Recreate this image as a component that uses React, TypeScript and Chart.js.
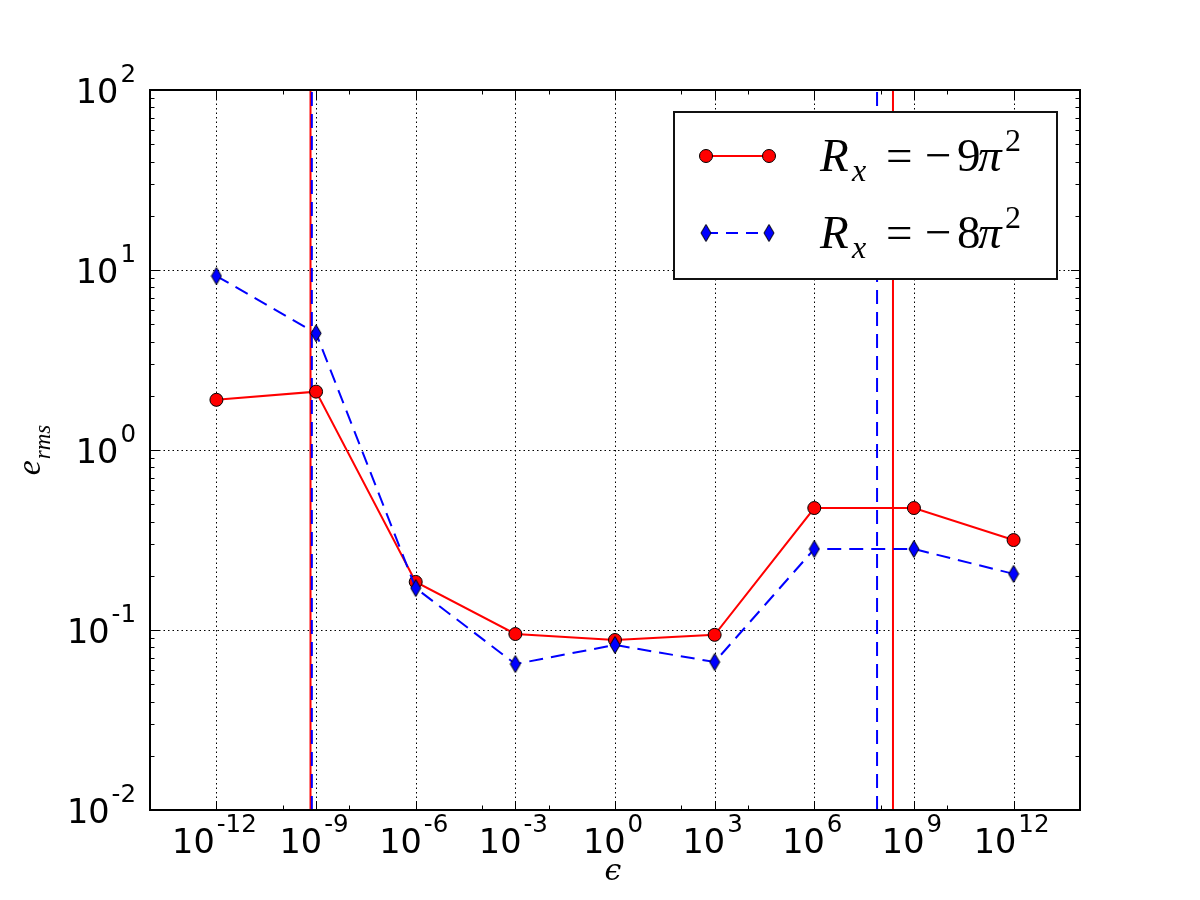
import { useEffect, useRef } from "react";
import { Chart, registerables } from "chart.js";

Chart.register(...registerables);

// Regularisation parameter values and RMS error of the two runs
const EPSILON = [1e-12, 1e-9, 1e-6, 1e-3, 1, 1e3, 1e6, 1e9, 1e12];
const ERMS_RX9 = [1.9, 2.11, 0.185, 0.095, 0.088, 0.094, 0.476, 0.476, 0.316];
const ERMS_RX8 = [9.26, 4.45, 0.171, 0.0647, 0.0826, 0.0664, 0.282, 0.282, 0.205];

// Stability limits in epsilon for each run (drawn as vertical lines)
const LIMITS_RX9 = [6.8e-10, 2.34e8];
const LIMITS_RX8 = [7.46e-10, 7.76e7];

// Legend coefficients: R_x = -c * pi^2
const SERIES_COEF = ["9", "8"];

// Axis ranges and tick exponents
const X_MIN = 1e-14;
const X_MAX = 1e14;
const Y_MIN = 1e-2;
const Y_MAX = 1e2;
const X_MAJOR_EXP = [-12, -9, -6, -3, 0, 3, 6, 9, 12];
const X_MINOR_EXP = [-10, -8, -4, -2, 2, 4, 8, 10];
const Y_MAJOR_EXP = [-2, -1, 0, 1, 2];

const RED = "#ff0000";
const BLUE = "#0000ff";
const DASH = [14, 8];
const TICK_FONT = '"DejaVu Sans", sans-serif';
const MATH_FONT = '"Liberation Serif", "DejaVu Serif", serif';

function makeDiamond(w: number, h: number, fill: string): HTMLCanvasElement {
  const c = document.createElement("canvas");
  c.width = w + 2;
  c.height = h + 2;
  const g = c.getContext("2d")!;
  g.beginPath();
  g.moveTo(c.width / 2, 1);
  g.lineTo(c.width - 1, c.height / 2);
  g.lineTo(c.width / 2, c.height - 1);
  g.lineTo(1, c.height / 2);
  g.closePath();
  g.fillStyle = fill;
  g.fill();
  g.lineWidth = 1;
  g.strokeStyle = "#000";
  g.stroke();
  return c;
}

function powerLabel(
  ctx: CanvasRenderingContext2D,
  exp: number,
  x: number,
  y: number,
  align: "center" | "right"
) {
  const base = "10";
  const sup = exp < 0 ? "-" + Math.abs(exp) : String(exp);
  ctx.font = `33.5px ${TICK_FONT}`;
  const wb = ctx.measureText(base).width;
  ctx.font = `24.5px ${TICK_FONT}`;
  const ws = ctx.measureText(sup).width;
  const total = wb + 2 + ws;
  const x0 = align === "center" ? x - total / 2 : x - total;
  ctx.textAlign = "left";
  ctx.textBaseline = "alphabetic";
  ctx.fillStyle = "#000";
  ctx.font = `33.5px ${TICK_FONT}`;
  ctx.fillText(base, x0, y);
  ctx.font = `24.5px ${TICK_FONT}`;
  ctx.fillText(sup, x0 + wb + 2, y - 21);
}

function makeDecorPlugin(diamond: HTMLCanvasElement) {
  return {
    id: "axesDecor",
    beforeDatasetsDraw(chart: any) {
      const { ctx, chartArea: a, scales } = chart;
      const xs = scales.x;
      const ys = scales.y;
      ctx.save();
      ctx.strokeStyle = "#000";
      ctx.lineWidth = 1;
      ctx.setLineDash([1.5, 3]);
      ctx.beginPath();
      for (const e of X_MAJOR_EXP) {
        const px = Math.round(xs.getPixelForValue(Math.pow(10, e))) + 0.5;
        ctx.moveTo(px, a.top);
        ctx.lineTo(px, a.bottom);
      }
      for (const e of Y_MAJOR_EXP) {
        if (e === -2 || e === 2) continue;
        const py = Math.round(ys.getPixelForValue(Math.pow(10, e))) + 0.5;
        ctx.moveTo(a.left, py);
        ctx.lineTo(a.right, py);
      }
      ctx.stroke();
      ctx.restore();
    },
    afterDatasetsDraw(chart: any) {
      const { ctx, chartArea: a, scales } = chart;
      const xs = scales.x;
      const ys = scales.y;
      ctx.save();

      // ticks pointing inwards on all four sides
      ctx.strokeStyle = "#000";
      ctx.lineWidth = 1;
      ctx.setLineDash([]);
      ctx.beginPath();
      const vTick = (v: number, len: number) => {
        const px = Math.round(xs.getPixelForValue(v)) + 0.5;
        ctx.moveTo(px, a.bottom);
        ctx.lineTo(px, a.bottom - len);
        ctx.moveTo(px, a.top);
        ctx.lineTo(px, a.top + len);
      };
      const hTick = (v: number, len: number) => {
        const py = Math.round(ys.getPixelForValue(v)) + 0.5;
        ctx.moveTo(a.left, py);
        ctx.lineTo(a.left + len, py);
        ctx.moveTo(a.right, py);
        ctx.lineTo(a.right - len, py);
      };
      X_MAJOR_EXP.forEach((e) => vTick(Math.pow(10, e), 9));
      X_MINOR_EXP.forEach((e) => vTick(Math.pow(10, e), 4.5));
      Y_MAJOR_EXP.forEach((e) => {
        hTick(Math.pow(10, e), 9);
        if (e < 2) for (let k = 2; k <= 9; k++) hTick(k * Math.pow(10, e), 4.5);
      });
      ctx.stroke();

      // frame
      ctx.lineWidth = 2;
      ctx.strokeRect(a.left, a.top, a.right - a.left, a.bottom - a.top);

      // tick labels
      X_MAJOR_EXP.forEach((e) => {
        powerLabel(ctx, e, xs.getPixelForValue(Math.pow(10, e)) - 2, a.bottom + 43, "center");
      });
      Y_MAJOR_EXP.forEach((e) => {
        powerLabel(ctx, e, a.left - 14, ys.getPixelForValue(Math.pow(10, e)) + 13, "right");
      });

      // x axis label
      ctx.fillStyle = "#000";
      ctx.textAlign = "center";
      ctx.textBaseline = "alphabetic";
      ctx.font = `italic 30px "DejaVu Serif", serif`;
      ctx.fillText("\u03f5", (a.left + a.right) / 2 - 2, a.bottom + 70);

      // y axis label: e_rms, rotated
      ctx.save();
      ctx.translate(40, (a.top + a.bottom) / 2);
      ctx.rotate(-Math.PI / 2);
      ctx.font = `italic 34px ${MATH_FONT}`;
      const we = ctx.measureText("e").width;
      ctx.font = `italic 23px ${MATH_FONT}`;
      const wr = ctx.measureText("rms").width;
      const tot = we + 1 + wr;
      ctx.textAlign = "left";
      ctx.font = `italic 34px ${MATH_FONT}`;
      ctx.fillText("e", -tot / 2, 0);
      ctx.font = `italic 23px ${MATH_FONT}`;
      ctx.fillText("rms", -tot / 2 + we + 1, 10);
      ctx.restore();

      // legend
      const bx = a.right - 23 - 383;
      const by = a.top + 22;
      ctx.fillStyle = "#fff";
      ctx.fillRect(bx, by, 383, 167);
      ctx.lineWidth = 2;
      ctx.strokeStyle = "#111";
      ctx.strokeRect(bx, by, 383, 167);

      SERIES_COEF.forEach((coef, i) => {
        const ly = by + 44 + i * 77;
        const x1 = bx + 32;
        const x2 = bx + 95;
        ctx.save();
        ctx.lineWidth = 2;
        ctx.strokeStyle = i === 0 ? RED : BLUE;
        ctx.setLineDash(i === 0 ? [] : [12, 8]);
        ctx.beginPath();
        ctx.moveTo(x1, ly);
        ctx.lineTo(x2, ly);
        ctx.stroke();
        ctx.setLineDash([]);
        for (const px of [x1, x2]) {
          if (i === 0) {
            ctx.beginPath();
            ctx.arc(px, ly, 6.5, 0, Math.PI * 2);
            ctx.fillStyle = RED;
            ctx.fill();
            ctx.lineWidth = 1;
            ctx.strokeStyle = "#000";
            ctx.stroke();
          } else {
            ctx.drawImage(diamond, px - diamond.width / 2, ly - diamond.height / 2);
          }
        }
        ctx.restore();

        // R_x = -c pi^2
        const tx = bx + 146;
        const ty = ly + 15;
        ctx.fillStyle = "#000";
        ctx.textAlign = "left";
        ctx.textBaseline = "alphabetic";
        ctx.font = `italic 47px ${MATH_FONT}`;
        ctx.fillText("R", tx, ty);
        ctx.font = `italic 32px ${MATH_FONT}`;
        ctx.fillText("x", tx + 32, ty + 10);
        ctx.font = `47px ${MATH_FONT}`;
        ctx.fillText("=", tx + 66, ty);
        ctx.fillText("\u2212", tx + 105, ty);
        ctx.fillText(coef, tx + 137, ty);
        ctx.font = `italic 47px ${MATH_FONT}`;
        ctx.fillText("\u03c0", tx + 158, ty);
        ctx.font = `32px ${MATH_FONT}`;
        ctx.fillText("2", tx + 185, ty - 20);
      });

      ctx.restore();
    },
  };
}

const pts = (xs: number[], ys: number[]) => xs.map((x, i) => ({ x, y: ys[i] }));
const vline = (x: number) => [
  { x, y: Y_MIN },
  { x, y: Y_MAX },
];

export default function App() {
  const ref = useRef<HTMLCanvasElement>(null);

  useEffect(() => {
    const canvas = ref.current;
    if (!canvas) return;
    const diamond = makeDiamond(10, 17, BLUE);

    const limitSet = (x: number, color: string, dashed: boolean) => ({
      data: vline(x),
      borderColor: color,
      borderWidth: 2,
      borderDash: dashed ? DASH : [],
      pointRadius: 0,
      tension: 0,
    });

    const chart = new Chart(canvas, {
      type: "line",
      data: {
        datasets: [
          {
            label: "R_x = -8pi^2",
            data: pts(EPSILON, ERMS_RX8),
            borderColor: BLUE,
            borderWidth: 2,
            borderDash: DASH,
            pointStyle: diamond,
            pointRadius: 8,
            tension: 0,
          },
          {
            label: "R_x = -9pi^2",
            data: pts(EPSILON, ERMS_RX9),
            borderColor: RED,
            borderWidth: 2,
            pointStyle: "circle",
            pointRadius: 6.5,
            pointBackgroundColor: RED,
            pointBorderColor: "#000",
            pointBorderWidth: 1,
            tension: 0,
          },
          limitSet(LIMITS_RX8[0], BLUE, true),
          limitSet(LIMITS_RX8[1], BLUE, true),
          limitSet(LIMITS_RX9[0], RED, false),
          limitSet(LIMITS_RX9[1], RED, false),
        ],
      },
      options: {
        responsive: false,
        devicePixelRatio: 1,
        animation: false,
        events: [],
        layout: { padding: { top: 90, right: 120, left: 0, bottom: 0 } },
        plugins: {
          legend: { display: false },
          tooltip: { enabled: false },
        },
        scales: {
          x: {
            type: "logarithmic",
            min: X_MIN,
            max: X_MAX,
            grid: { display: false },
            border: { display: false },
            ticks: { display: false },
            afterFit: (s: any) => {
              s.height = 90;
            },
          },
          y: {
            type: "logarithmic",
            min: Y_MIN,
            max: Y_MAX,
            grid: { display: false },
            border: { display: false },
            ticks: { display: false },
            afterFit: (s: any) => {
              s.width = 150;
            },
          },
        },
      },
      plugins: [makeDecorPlugin(diamond)],
    } as any);

    return () => chart.destroy();
  }, []);

  return (
    <div
      style={{
        position: "absolute",
        left: 0,
        top: 0,
        width: 1200,
        height: 900,
        background: "#fff",
      }}
    >
      <canvas
        ref={ref}
        width={1200}
        height={900}
        style={{ display: "block", width: 1200, height: 900 }}
      />
    </div>
  );
}
